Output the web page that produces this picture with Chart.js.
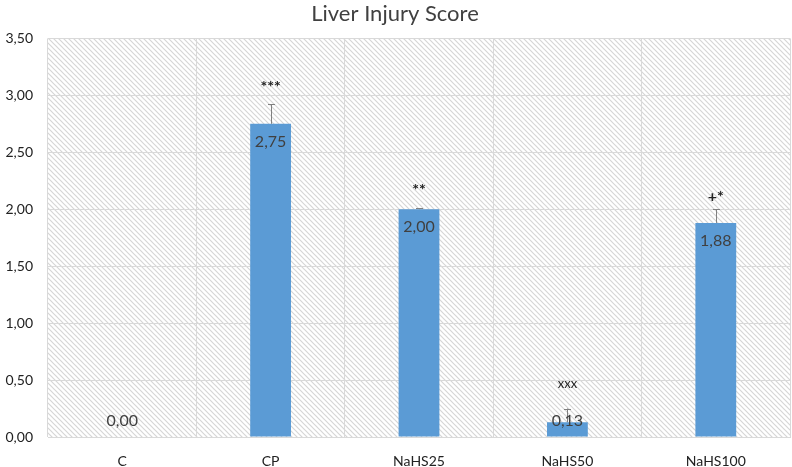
<!DOCTYPE html>
<html>
<head>
<meta charset="utf-8">
<script src="https://cdn.jsdelivr.net/npm/chart.js@4"></script>
<style>
  html, body { margin:0; padding:0; background:#fff; }
  #wrap { width:792px; height:467px; }
</style>
</head>
<body>
<div id="wrap"><canvas id="chart" width="792" height="467"></canvas></div>
<script>
// values
const categories = ['C', 'CP', 'NaHS25', 'NaHS50', 'NaHS100'];
const scores     = [0.00, 2.75, 2.00, 0.13, 1.88];
const errors     = [0.00, 0.17, 0.01, 0.12, 0.12];
const marks      = ['', '***', '**', 'xxx', '+*'];
const markGap    = [0, 18, 18, 25, 12];

const FONT = 'Lato, "Open Sans", sans-serif';
const fmt = v => v.toFixed(2).replace('.', ',');

function hatch() {
  const c = document.createElement('canvas');
  c.width = 5; c.height = 5;
  const g = c.getContext('2d');
  g.fillStyle = '#fff';
  g.fillRect(0, 0, 5, 5);
  g.strokeStyle = '#d6d6d6';
  g.lineWidth = 1.2;
  g.beginPath();
  g.moveTo(-1, -1); g.lineTo(6, 6);
  g.moveTo(-1, 4);  g.lineTo(1, 6);
  g.moveTo(4, -1);  g.lineTo(6, 1);
  g.stroke();
  return c;
}

// hatched plot background
const bgPlugin = {
  id: 'bg',
  beforeDraw(chart) {
    const { ctx, chartArea: a } = chart;
    ctx.save();
    ctx.fillStyle = ctx.createPattern(hatch(), 'repeat');
    ctx.fillRect(a.left, a.top, a.right - a.left, a.bottom - a.top);
    ctx.restore();
  }
};

// error bars, value labels and significance marks
const extrasPlugin = {
  id: 'extras',
  afterDatasetsDraw(chart) {
    const { ctx } = chart;
    const y = chart.scales.y;
    const meta = chart.getDatasetMeta(0);
    const base = y.getPixelForValue(0);
    ctx.save();
    meta.data.forEach((bar, i) => {
      const top = y.getPixelForValue(scores[i]);
      const errTop = y.getPixelForValue(scores[i] + errors[i]);
      if (errors[i] > 0) {
        ctx.strokeStyle = '#808080';
        ctx.lineWidth = 1;
        ctx.beginPath();
        ctx.moveTo(Math.round(bar.x) + 0.5, top);
        ctx.lineTo(Math.round(bar.x) + 0.5, errTop);
        ctx.moveTo(Math.round(bar.x) - 3, Math.round(errTop) + 0.5);
        ctx.lineTo(Math.round(bar.x) + 4, Math.round(errTop) + 0.5);
        ctx.stroke();
      }
      ctx.fillStyle = '#404040';
      ctx.font = '16px ' + FONT;
      ctx.textAlign = 'center';
      ctx.textBaseline = 'middle';
      ctx.fillText(fmt(scores[i]), bar.x, Math.min(top + 18, base - 16));
      if (marks[i]) {
        ctx.font = (marks[i] === 'xxx' ? '13px ' : 'bold 16px ') + FONT;
        ctx.fillStyle = '#222';
        ctx.fillText(marks[i], bar.x, errTop - markGap[i]);
      }
    });
    ctx.restore();
  }
};

new Chart(document.getElementById('chart'), {
  type: 'bar',
  data: {
    labels: categories,
    datasets: [{
      data: scores,
      backgroundColor: '#5b9bd5',
      borderWidth: 0,
      barPercentage: 0.55,
      categoryPercentage: 0.5,
    }],
  },
  options: {
    responsive: false,
    animation: false,
    layout: { padding: { right: 2, top: 0, bottom: 0, left: 0 } },
    plugins: {
      legend: { display: false },
      tooltip: { enabled: false },
      title: {
        display: true,
        text: 'Liver Injury Score',
        color: '#404040',
        font: { family: FONT, size: 22, weight: 'normal' },
        padding: { top: 1, bottom: 11 },
      },
    },
    scales: {
      x: {
        grid: { color: '#d9d9d9', drawTicks: false, offset: true },
        border: { color: '#d9d9d9' },
        ticks: { color: '#222', font: { family: FONT, size: 14 }, padding: 16 },
        afterFit(s) { s.height = 30; },
      },
      y: {
        min: 0, max: 3.5,
        grid: { color: '#d9d9d9', drawTicks: false },
        border: { display: false },
        ticks: {
          stepSize: 0.5,
          color: '#222',
          font: { family: FONT, size: 14 },
          padding: 15,
          callback: v => fmt(v),
        },
        afterFit(s) { s.width = 48; },
      },
    },
  },
  plugins: [bgPlugin, extrasPlugin],
});
</script>
</body>
</html>
